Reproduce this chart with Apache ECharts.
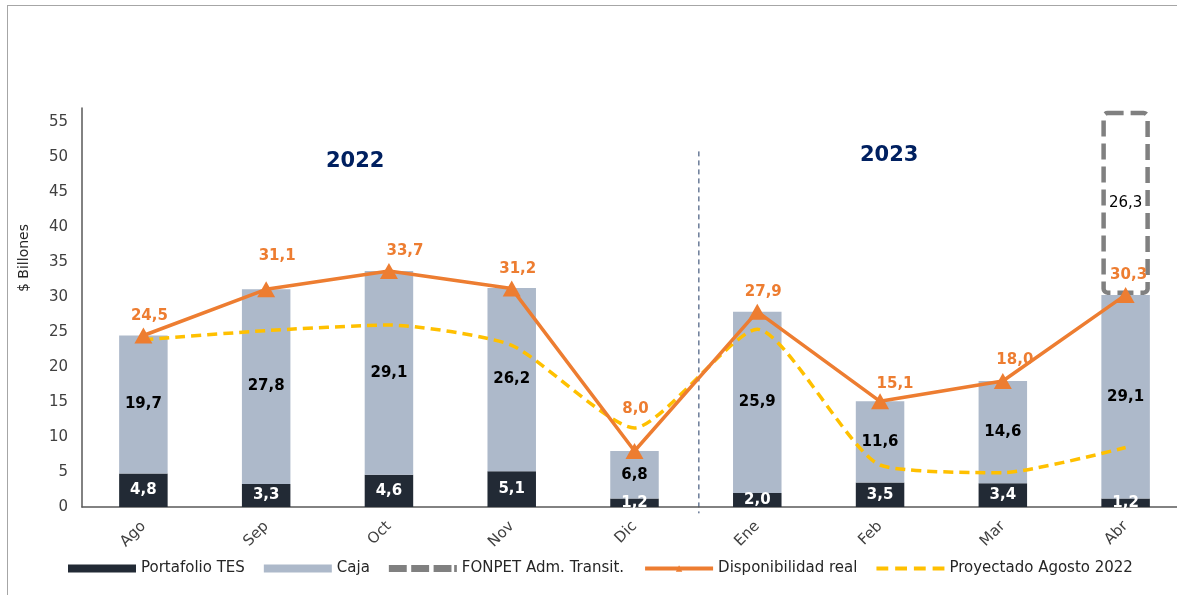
<!DOCTYPE html>
<html>
<head>
<meta charset="utf-8">
<script src="https://cdn.jsdelivr.net/npm/echarts@6/dist/echarts.min.js"></script>
<style>
  html, body { margin: 0; padding: 0; background: #fff; overflow: hidden; }
  #frame { position: absolute; left: 7px; top: 5px; width: 1300px; height: 700px;
           border-left: 1.5px solid #A6A6A6; border-top: 1.5px solid #A6A6A6; }
  #chart { position: absolute; left: 0; top: 0; width: 1177px; height: 595px; }
</style>
</head>
<body>
<div id="frame"></div>
<div id="chart"></div>
<script>
// meses
var meses = ['Ago', 'Sep', 'Oct', 'Nov', 'Dic', 'Ene', 'Feb', 'Mar', 'Abr'];
// $ billones
var portafolioTES = [4.8, 3.3, 4.6, 5.1, 1.2, 2.0, 3.5, 3.4, 1.2];
var caja = [19.7, 27.8, 29.1, 26.2, 6.8, 25.9, 11.6, 14.6, 29.1];
var fonpet = ['-', '-', '-', '-', '-', '-', '-', '-', 26.3];
var dispReal = [24.5, 31.1, 33.7, 31.2, 8.0, 27.9, 15.1, 18.0, 30.3];
var proyectado = [23.9, 25.2, 26.0, 23.1, 11.3, 25.4, 6.0, 4.9, 8.5];
var yTicks = [0, 5, 10, 15, 20, 25, 30, 35, 40, 45, 50, 55];
// divisor entre 2022 y 2023 (entre Dic y Ene), de 50,8 a -0,9
var divisorY = [50.8, -0.9];

// desplazamiento de etiquetas (solo estilo)
var realLabelOffset = [[6, 0], [11, -14], [16, 0], [6, 0], [1, -22], [6, 0], [15, 2], [12, -1], [3, 0]];

var FONT = 'DejaVu Sans';

function coma(v) {
    return (+v).toFixed(1).replace('.', ',');
}

var chart = echarts.init(document.getElementById('chart'));

var option = {
    animation: false,
    textStyle: { fontFamily: FONT },
    grid: {
        left: 82,
        top: 108,
        bottom: 88,
        width: 1105,
        containLabel: false,
        outerBoundsMode: 'none'
    },
    legend: {
        left: 63,
        top: 556,
        itemWidth: 68,
        itemHeight: 8,
        itemGap: 19,
        textStyle: { color: '#262626', fontSize: 15, fontFamily: FONT },
        data: [
            { name: 'Portafolio TES', icon: 'rect' },
            { name: 'Caja', icon: 'rect' },
            { name: 'FONPET Adm. Transit.', icon: 'path://M0,0h20v8h-20z M25,0h20v8h-20z M50,0h20v8h-20z M73,0h3v8h-3z', itemStyle: { color: '#808080', borderWidth: 0 } },
            { name: 'Disponibilidad real', lineStyle: { width: 4 } },
            { name: 'Proyectado Agosto 2022', icon: 'path://M0,0h12v4h-12z M19,0h12v4h-12z M38,0h12v4h-12z M57,0h12v4h-12z', itemStyle: { color: '#FFC000', borderWidth: 0 } }
        ]
    },
    xAxis: [{
        type: 'category',
        data: meses,
        axisTick: { show: false },
        axisLine: { show: true, lineStyle: { color: '#595959', width: 1.5 } },
        axisLabel: {
            interval: 0,
            rotate: 45,
            margin: 17,
            color: '#404040',
            fontSize: 15,
            fontFamily: FONT
        }
    }],
    yAxis: [{
        type: 'value',
        min: 0,
        max: 57,
        interval: 5,
        splitLine: { show: false },
        axisTick: { show: false },
        axisLine: { show: true, lineStyle: { color: '#595959', width: 1.5 } },
        axisLabel: {
            showMaxLabel: false,
            margin: 14,
            color: '#404040',
            fontSize: 15,
            fontFamily: FONT,
            formatter: function (v) {
                return yTicks.indexOf(v) >= 0 ? v : '';
            }
        }
    }],
    graphic: [
        {
            type: 'text',
            left: 326,
            top: 151,
            style: { text: '2022', fill: '#002060', font: 'bold 21px ' + FONT }
        },
        {
            type: 'text',
            left: 860,
            top: 145,
            style: { text: '2023', fill: '#002060', font: 'bold 21px ' + FONT }
        },
        {
            type: 'text',
            x: 17,
            y: 292,
            rotation: Math.PI / 2,
            style: { text: '$ Billones', fill: '#262626', font: '14px ' + FONT }
        }
    ],
    series: [
        {
            name: 'Portafolio TES',
            type: 'bar',
            stack: 'total',
            barWidth: '39.5%',
            itemStyle: { color: '#222A35' },
            label: {
                show: true,
                position: 'inside',
                color: '#fff',
                fontWeight: 'bold',
                fontSize: 15,
                fontFamily: FONT,
                formatter: function (p) { return coma(p.value); }
            },
            data: portafolioTES
        },
        {
            name: 'Caja',
            type: 'bar',
            stack: 'total',
            itemStyle: { color: '#ADB9CA' },
            label: {
                show: true,
                position: 'inside',
                color: '#000',
                fontWeight: 'bold',
                fontSize: 15,
                fontFamily: FONT,
                formatter: function (p) { return coma(p.value); }
            },
            data: caja
        },
        {
            name: 'FONPET Adm. Transit.',
            type: 'bar',
            stack: 'total',
            itemStyle: {
                color: 'rgba(255,255,255,0)',
                borderColor: '#808080',
                borderWidth: 4.5,
                borderType: [16, 7],
                borderRadius: 4
            },
            label: {
                show: true,
                position: 'inside',
                color: '#000',
                fontSize: 15,
                fontFamily: FONT,
                formatter: function (p) { return coma(p.value); }
            },
            data: fonpet
        },
        {
            name: 'Proyectado Agosto 2022',
            type: 'line',
            smooth: 0.2,
            symbol: 'none',
            z: 3,
            lineStyle: { color: '#FFC000', width: 3.5, type: [10, 6] },
            itemStyle: { color: '#FFC000' },
            data: proyectado
        },
        {
            name: 'Disponibilidad real',
            type: 'line',
            symbol: 'triangle',
            symbolSize: [18, 16],
            z: 4,
            lineStyle: { color: '#ED7D31', width: 3.5 },
            itemStyle: { color: '#ED7D31' },
            label: {
                show: true,
                position: 'top',
                distance: 4,
                color: '#ED7D31',
                fontWeight: 'bold',
                fontSize: 15,
                fontFamily: FONT,
                formatter: function (p) { return coma(p.value); }
            },
            data: dispReal.map(function (v, i) {
                return { value: v, label: { offset: realLabelOffset[i] } };
            })
        }
    ]
};

chart.setOption(option);

// linea divisoria entre Dic y Ene, ubicada con la escala del eje
var pDic = chart.convertToPixel({ xAxisIndex: 0, yAxisIndex: 0 }, ['Dic', divisorY[0]]);
var pEne = chart.convertToPixel({ xAxisIndex: 0, yAxisIndex: 0 }, ['Ene', divisorY[1]]);
var xDiv = (pDic[0] + pEne[0]) / 2 + 3;
chart.setOption({
    graphic: [{
        type: 'line',
        id: 'divisor',
        shape: { x1: xDiv, y1: pDic[1], x2: xDiv, y2: pEne[1] },
        style: { stroke: '#1F3864', lineWidth: 1, lineDash: [5, 4] }
    }]
});
</script>
</body>
</html>
